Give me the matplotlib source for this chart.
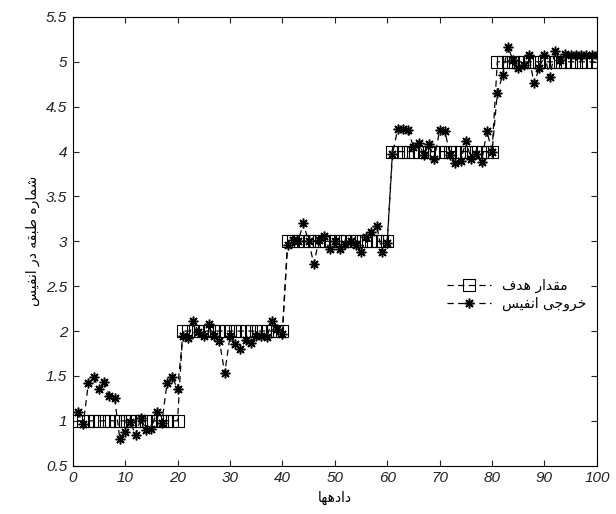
import matplotlib
matplotlib.use("Agg")
import matplotlib.pyplot as plt
from matplotlib.ticker import FormatStrFormatter

# target class (floor number) per sample
samples = list(range(1, 101))
target = [1] * 20 + [2] * 20 + [3] * 20 + [4] * 20 + [5] * 20

# ANFIS output
anfis_out = [
    1.10, 0.96, 1.42, 1.49, 1.35, 1.43, 1.28, 1.25, 0.80, 0.88,
    0.99, 0.84, 1.03, 0.90, 0.91, 1.10, 0.98, 1.42, 1.49, 1.35,
    1.95, 1.92, 2.11, 1.99, 1.95, 2.08, 1.94, 1.89, 1.53, 1.94,
    1.86, 1.80, 1.90, 1.87, 1.95, 1.94, 1.93, 2.11, 2.02, 1.97,
    2.96, 3.02, 3.00, 3.20, 3.00, 2.75, 3.02, 3.06, 2.91, 3.00,
    2.92, 2.97, 3.00, 2.96, 2.88, 3.05, 3.10, 3.17, 2.88, 2.98,
    3.97, 4.25, 4.25, 4.24, 4.05, 4.10, 3.96, 4.08, 3.92, 4.24,
    4.23, 3.96, 3.87, 3.89, 4.12, 3.92, 3.97, 3.88, 4.23, 4.00,
    4.65, 4.85, 5.17, 5.02, 4.93, 4.97, 5.08, 4.76, 4.93, 5.08,
    4.83, 5.12, 5.02, 5.09, 5.08, 5.08, 5.08, 5.08, 5.08, 5.08,
]

xlabel_fa = "دادهها"
ylabel_fa = "شماره طبقه در انفیس"
legend_fa = ["مقدار هدف", "خروجی انفیس"]

# matplotlib has no arabic shaping, so pick presentation forms by hand
# (isolated, final, initial, medial)
FORMS = {
    'ا': ('\uFE8D', '\uFE8E', None, None),
    'ب': ('\uFE8F', '\uFE90', '\uFE91', '\uFE92'),
    'ج': ('\uFE9D', '\uFE9E', '\uFE9F', '\uFEA0'),
    'خ': ('\uFEA5', '\uFEA6', '\uFEA7', '\uFEA8'),
    'د': ('\uFEA9', '\uFEAA', None, None),
    'ر': ('\uFEAD', '\uFEAE', None, None),
    'س': ('\uFEB1', '\uFEB2', '\uFEB3', '\uFEB4'),
    'ش': ('\uFEB5', '\uFEB6', '\uFEB7', '\uFEB8'),
    'ط': ('\uFEC1', '\uFEC2', '\uFEC3', '\uFEC4'),
    'ف': ('\uFED1', '\uFED2', '\uFED3', '\uFED4'),
    'ق': ('\uFED5', '\uFED6', '\uFED7', '\uFED8'),
    'م': ('\uFEE1', '\uFEE2', '\uFEE3', '\uFEE4'),
    'ن': ('\uFEE5', '\uFEE6', '\uFEE7', '\uFEE8'),
    'ه': ('\uFEE9', '\uFEEA', '\uFEEB', '\uFEEC'),
    'و': ('\uFEED', '\uFEEE', None, None),
    'ی': ('\uFBFC', '\uFBFD', '\uFBFE', '\uFBFF'),
}


def shape(text):
    out = []
    for i, c in enumerate(text):
        if c not in FORMS:
            out.append(c)
            continue
        prev = text[i - 1] if i > 0 else ' '
        nxt = text[i + 1] if i < len(text) - 1 else ' '
        join_prev = prev in FORMS and FORMS[prev][2] is not None
        join_next = FORMS[c][2] is not None and nxt in FORMS
        if join_prev and join_next:
            out.append(FORMS[c][3])
        elif join_prev:
            out.append(FORMS[c][1])
        elif join_next:
            out.append(FORMS[c][2])
        else:
            out.append(FORMS[c][0])
    return ''.join(out)[::-1]


fig = plt.figure(figsize=(6.16, 5.14), dpi=100)
ax = fig.add_axes([0.118, 0.094, 0.851, 0.873])

ax.plot(samples, target, '--', color='k', lw=0.9, dashes=(5, 3.5), marker='s',
        ms=8, mfc='none', mec='k', mew=0.8, label=shape(legend_fa[0]))
ax.plot(samples, anfis_out, '--', color='k', lw=0.9, dashes=(5, 3.5),
        marker=(8, 2, 0), ms=7, mec='k', mew=1.1, label=shape(legend_fa[1]))

ax.set_xlim(0, 100)
ax.set_ylim(0.5, 5.5)
ax.set_xticks(range(0, 101, 10))
ax.set_yticks([0.5 + 0.5 * i for i in range(11)])
ax.yaxis.set_major_formatter(FormatStrFormatter('%g'))
ax.tick_params(direction='in', top=True, right=True, length=4, width=0.8,
               labelsize=11, colors='#222222', pad=4)
for lab in ax.get_xticklabels() + ax.get_yticklabels():
    lab.set_fontstyle('italic')
    lab.set_family('Liberation Sans')
for sp in ax.spines.values():
    sp.set_linewidth(0.8)

ax.set_xlabel(shape(xlabel_fa), family='DejaVu Sans', fontsize=10, labelpad=4)
ax.set_ylabel(shape(ylabel_fa), family='DejaVu Sans', fontsize=10, labelpad=4)

ax.legend(loc='upper left', bbox_to_anchor=(0.69, 0.445), frameon=False,
          handlelength=3.2, labelspacing=0.3,
          prop={'family': 'DejaVu Sans', 'size': 10})

fig.savefig('out.png', dpi=100)
